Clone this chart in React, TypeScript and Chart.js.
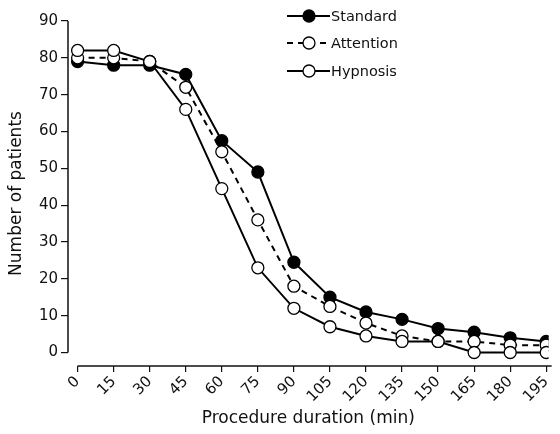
import React, { useEffect, useRef } from "react";
import { Chart, registerables } from "chart.js";

Chart.register(...registerables);

const durations = [0, 15, 30, 45, 60, 75, 90, 105, 120, 135, 150, 165, 180, 195];
const standard = [79, 78, 78, 75.5, 57.5, 49, 24.5, 15, 11, 9, 6.5, 5.5, 4, 3];
const attention = [80, 80, 79, 72, 54.5, 36, 18, 12.5, 8, 4.5, 3, 3, 2, 2];
const hypnosis = [82, 82, 79, 66, 44.5, 23, 12, 7, 4.5, 3, 3, 0, 0, 0];
const yTicks = [0, 10, 20, 30, 40, 50, 60, 70, 80, 90];
const seriesNames = ["Standard", "Attention", "Hypnosis"];

const FONT = "'DejaVu Sans', sans-serif";

const axisLinesPlugin = {
  id: "axisLines",
  beforeDatasetsDraw(chart: any) {
    const { ctx, chartArea, scales } = chart;
    const x = scales.x;
    const y = scales.y;
    ctx.save();
    ctx.strokeStyle = "#111";
    ctx.lineWidth = 1.5;
    ctx.beginPath();
    ctx.moveTo(chartArea.left, y.getPixelForValue(90));
    ctx.lineTo(chartArea.left, y.getPixelForValue(0));
    ctx.stroke();
    ctx.beginPath();
    ctx.moveTo(x.getPixelForValue(0), chartArea.bottom);
    ctx.lineTo(chartArea.right + 3, chartArea.bottom);
    ctx.stroke();
    ctx.restore();
  },
};

const legendPlugin = {
  id: "customLegend",
  afterDraw(chart: any) {
    const { ctx } = chart;
    const rows = [16, 43, 71];
    ctx.save();
    chart.data.datasets.forEach((ds: any, i: number) => {
      const yy = rows[i];
      ctx.strokeStyle = "#000";
      ctx.lineWidth = 2;
      ctx.setLineDash(ds.borderDash || []);
      ctx.beginPath();
      ctx.moveTo(287, yy);
      ctx.lineTo(330, yy);
      ctx.stroke();
      ctx.setLineDash([]);
      ctx.beginPath();
      ctx.arc(309, yy, 6, 0, Math.PI * 2);
      ctx.fillStyle = ds.pointBackgroundColor;
      ctx.fill();
      ctx.lineWidth = 1.3;
      ctx.stroke();
      ctx.fillStyle = "#111";
      ctx.font = `14.5px ${FONT}`;
      ctx.textBaseline = "middle";
      ctx.textAlign = "left";
      ctx.fillText(seriesNames[i], 331, yy + 1);
    });
    ctx.restore();
  },
};

export default function App() {
  const ref = useRef<HTMLCanvasElement | null>(null);

  useEffect(() => {
    document.body.style.margin = "0";
    if (!ref.current) return;
    const mk = (vals: number[]) => durations.map((d, i) => ({ x: d, y: vals[i] }));
    const chart = new Chart(ref.current, {
      type: "line",
      data: {
        datasets: [
          {
            label: seriesNames[0],
            data: mk(standard),
            borderColor: "#000",
            borderWidth: 2,
            pointBackgroundColor: "#000",
            pointBorderColor: "#000",
            pointBorderWidth: 1.3,
            pointRadius: 6,
            order: 3,
          },
          {
            label: seriesNames[1],
            data: mk(attention),
            borderColor: "#000",
            borderWidth: 2,
            borderDash: [6, 5],
            pointBackgroundColor: "#fff",
            pointBorderColor: "#000",
            pointBorderWidth: 1.3,
            pointRadius: 6,
            order: 2,
          },
          {
            label: seriesNames[2],
            data: mk(hypnosis),
            borderColor: "#000",
            borderWidth: 2,
            pointBackgroundColor: "#fff",
            pointBorderColor: "#000",
            pointBorderWidth: 1.3,
            pointRadius: 6,
            order: 1,
          },
        ],
      },
      options: {
        animation: false,
        responsive: false,
        devicePixelRatio: 1,
        layout: { padding: { top: 21, right: 3.6, bottom: 3, left: 0 } },
        plugins: {
          legend: { display: false },
          tooltip: { enabled: false },
        },
        scales: {
          x: {
            type: "linear",
            min: -4,
            max: 196,
            afterBuildTicks: (s: any) => {
              s.ticks = durations.map((v) => ({ value: v }));
            },
            afterFit: (s: any) => {
              s.height = 65;
            },
            grid: { drawOnChartArea: false, drawTicks: true, tickLength: 6, color: "#111", lineWidth: 1.2 },
            border: { display: false },
            ticks: {
              autoSkip: false,
              minRotation: 45,
              maxRotation: 45,
              color: "#111",
              font: { family: FONT, size: 15 },
              padding: 1,
            },
            title: {
              display: true,
              text: "Procedure duration (min)",
              color: "#111",
              font: { family: FONT, size: 17 },
              padding: { top: 0, bottom: 2 },
            },
          },
          y: {
            type: "linear",
            min: -3.66,
            max: 90,
            afterBuildTicks: (s: any) => {
              s.ticks = yTicks.map((v) => ({ value: v }));
            },
            afterFit: (s: any) => {
              s.width = 68;
            },
            grid: { drawOnChartArea: false, drawTicks: true, tickLength: 7, color: "#111", lineWidth: 1.2 },
            border: { display: false },
            ticks: {
              color: "#111",
              font: { family: FONT, size: 15 },
              padding: 3,
            },
            title: {
              display: true,
              text: "Number of patients",
              color: "#111",
              font: { family: FONT, size: 17 },
              padding: { top: 6, bottom: 0 },
            },
          },
        },
      },
      plugins: [axisLinesPlugin, legendPlugin],
    });
    return () => chart.destroy();
  }, []);

  return (
    <div style={{ width: 560, height: 434 }}>
      <canvas ref={ref} width={560} height={434} />
    </div>
  );
}
